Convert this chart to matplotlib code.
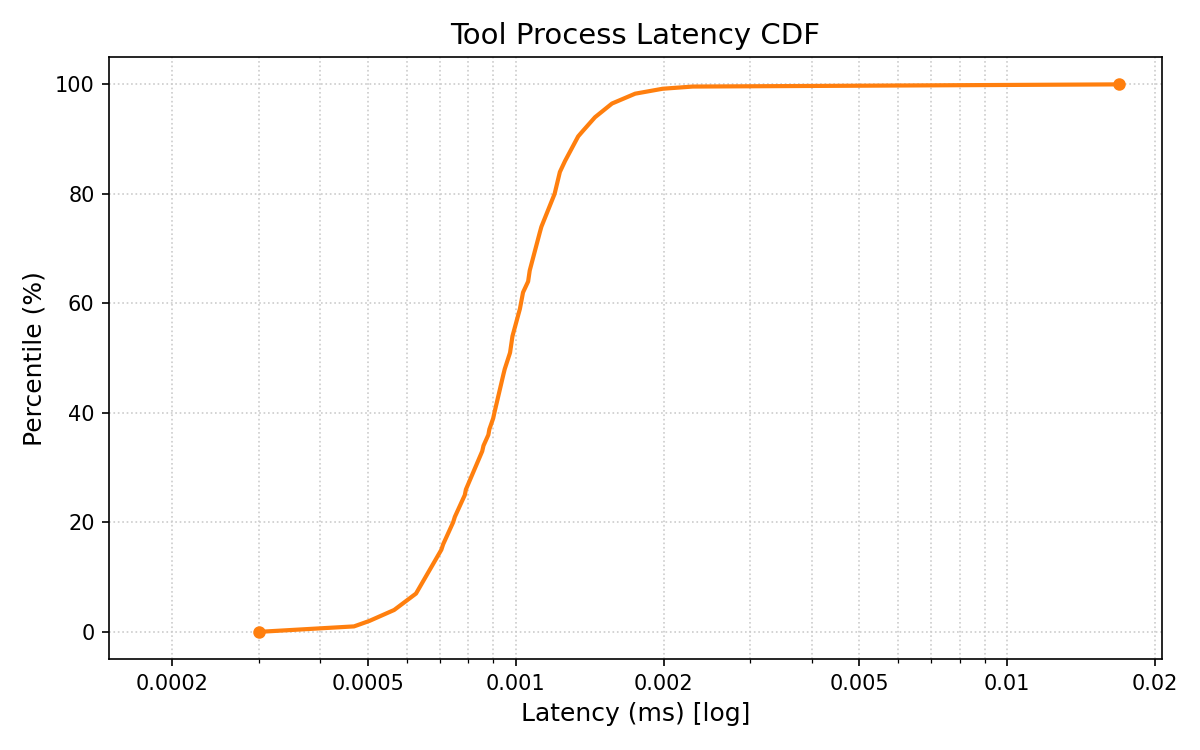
import matplotlib
matplotlib.use("Agg")
import matplotlib.pyplot as plt
from matplotlib.ticker import FixedLocator, FuncFormatter, NullFormatter

# latency (ms), with matching percentile
latency_ms = [0.000300, 0.000469, 0.000504, 0.000566, 0.000627, 0.000706, 0.000712,
              0.000746, 0.000752, 0.000788, 0.000792, 0.000855, 0.000860, 0.000880,
              0.000884, 0.000900, 0.000905, 0.000944, 0.000950, 0.000974, 0.000985,
              0.001020, 0.001035, 0.001060, 0.001068, 0.001090, 0.001120, 0.001128,
              0.001200, 0.001230, 0.001260, 0.001340, 0.001370, 0.001450, 0.001570,
              0.001750, 0.001990, 0.002290, 0.016860]
percentile = [0, 1, 2, 4, 7, 15, 16, 20, 21, 25, 26, 33, 34, 36, 37, 39, 40, 47, 48,
              51, 54, 59, 62, 64, 66, 69, 73, 74, 80, 84, 86, 90.5, 91.5, 94, 96.5,
              98.3, 99.2, 99.6, 100]
major_ticks = [0.0002, 0.0005, 0.001, 0.002, 0.005, 0.01, 0.02]

fig, ax = plt.subplots(figsize=(8, 5), dpi=150)
fig.subplots_adjust(left=0.091, right=0.968, bottom=0.121, top=0.924)

ax.plot(latency_ms, percentile, color="#ff7f0e", linewidth=2)
ax.plot([latency_ms[0], latency_ms[-1]], [percentile[0], percentile[-1]],
        "o", color="#ff7f0e", markersize=5)

ax.set_xscale("log")
ax.set_xlim(0.000149, 0.0206)
ax.xaxis.set_major_locator(FixedLocator(major_ticks))
ax.xaxis.set_major_formatter(FuncFormatter(lambda v, _: f"{v:g}"))
ax.xaxis.set_minor_formatter(NullFormatter())

ax.grid(True, which="both", linestyle=":", color="#cccccc", linewidth=0.8)
ax.set_title("Tool Process Latency CDF", fontsize=14)
ax.set_xlabel("Latency (ms) [log]", fontsize=12)
ax.set_ylabel("Percentile (%)", fontsize=12)
ax.tick_params(labelsize=10)

fig.savefig("out.png", dpi=150)
